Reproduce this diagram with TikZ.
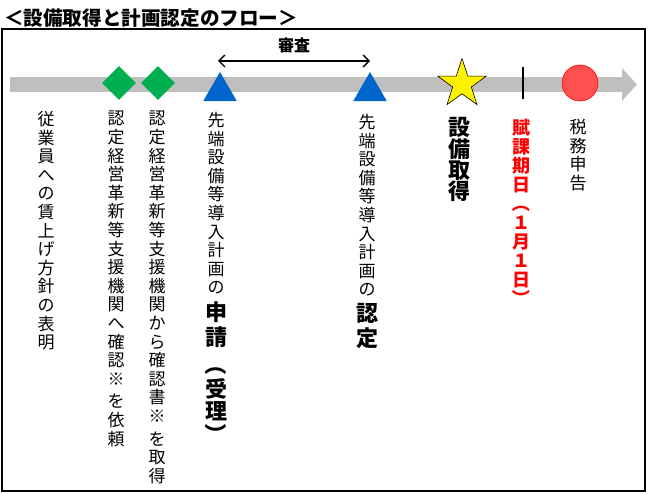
\documentclass[tikz,border=0pt]{standalone}
\usepackage{fontspec}
\setmainfont{Noto Sans CJK JP}
\usepackage{graphicx}
\usetikzlibrary{shapes.geometric,arrows.meta}
\definecolor{bandgray}{HTML}{BFBFBF}
\definecolor{markgreen}{HTML}{00B050}
\definecolor{markblue}{HTML}{0066CC}
\definecolor{markred}{HTML}{FF5050}
\newcommand{\tbold}[1]{{\fontsize{22}{23}\selectfont\bfseries #1}}
\newcommand{\kakkoL}{\rotatebox[origin=c]{-90}{（}}
\newcommand{\kakkoR}{\rotatebox[origin=c]{-90}{）}}

\begin{document}
\begin{tikzpicture}[x=1pt,y=-1pt,
		tate/.style={anchor=north, align=center, inner sep=0pt, font=\fontsize{17}{18.6}\selectfont},
		diamark/.style={diamond, fill=markgreen, inner sep=0pt, minimum size=34pt},
		trimark/.style={regular polygon, regular polygon sides=3, fill=markblue, inner sep=0pt, minimum size=39pt}]
	\useasboundingbox (0,0) rectangle (648,494);
	\node[anchor=west, inner sep=0pt, font=\fontsize{19.6}{20}\selectfont\bfseries] (ttl) at (4,18) {＜設備取得と計画認定のフロー＞};
	\draw[line width=1.3pt] (2,29) rectangle (645,491);
	\coordinate (bs) at (10,84.5);
	\coordinate (be) at (637,84.5);
	\draw[bandgray, line width=15pt, -{Triangle[length=15pt, width=32pt]}] (bs) -- (be);
	\node[diamark] (dia1) at (119,83) {};
	\node[diamark] (dia2) at (158,83) {};
	\node[trimark] (tri1) at (220,91.5) {};
	\node[trimark] (tri2) at (370,91.5) {};
	\node[star, star points=5, star point ratio=2.6, minimum size=51pt, inner sep=0pt, fill=yellow, draw=black, line width=0.6pt] (star) at (462,84) {};
	\node[fill=black, inner sep=0pt, minimum width=2.8pt, minimum height=32pt] (tick) at (523,83) {};
	\node[circle, fill=markred, draw=red, line width=0.6pt, inner sep=0pt, minimum size=36pt] (circ) at (580,83) {};
	\coordinate (sl) at (218,61);
	\coordinate (sr) at (370,61);
	\draw[{Straight Barb[length=6pt, width=12pt]}-{Straight Barb[length=6pt, width=12pt]}, line width=1.3pt] (sl) -- (sr)
		node[midway, above=4pt, font=\fontsize{16}{16}\selectfont\bfseries] (shinsa) {審査};
	\node[tate] (chingin) at (46,111) {従\\業\\員\\へ\\の\\賃\\上\\げ\\方\\針\\の\\表\\明};
	\node[tate] (irai) at (116,111) {認\\定\\経\\営\\革\\新\\等\\支\\援\\機\\関\\へ\\確\\認\\※\\[4pt]を\\依\\頼};
	\node[tate] (shutoku) at (157,111) {認\\定\\経\\営\\革\\新\\等\\支\\援\\機\\関\\か\\ら\\確\\認\\書\\※\\[4pt]を\\取\\得};
	\node[tate] (shinsei) at (216,112) {先\\端\\設\\備\\等\\導\\入\\計\\画\\の\\[6pt]\tbold{申}\\[3pt]\tbold{請}\\[5pt]\tbold{\kakkoL}\\[2pt]\tbold{受}\\[2pt]\tbold{理}\\[1pt]\tbold{\kakkoR}};
	\node[tate] (nintei) at (367,114) {先\\端\\設\\備\\等\\導\\入\\計\\画\\の\\[6pt]\tbold{認}\\[3pt]\tbold{定}};
	\node[tate, font=\fontsize{22}{20.8}\selectfont\bfseries] (setsubi) at (459,117) {設\\備\\取\\得};
	\node[tate, text=red, font=\fontsize{18}{19}\selectfont\bfseries] (fuka) at (521,119) {賦\\課\\期\\日\\\kakkoL\\１\\月\\１\\日\\\kakkoR};
	\node[tate] (shinkoku) at (578,119) {税\\務\\申\\告};
\end{tikzpicture}
\end{document}
